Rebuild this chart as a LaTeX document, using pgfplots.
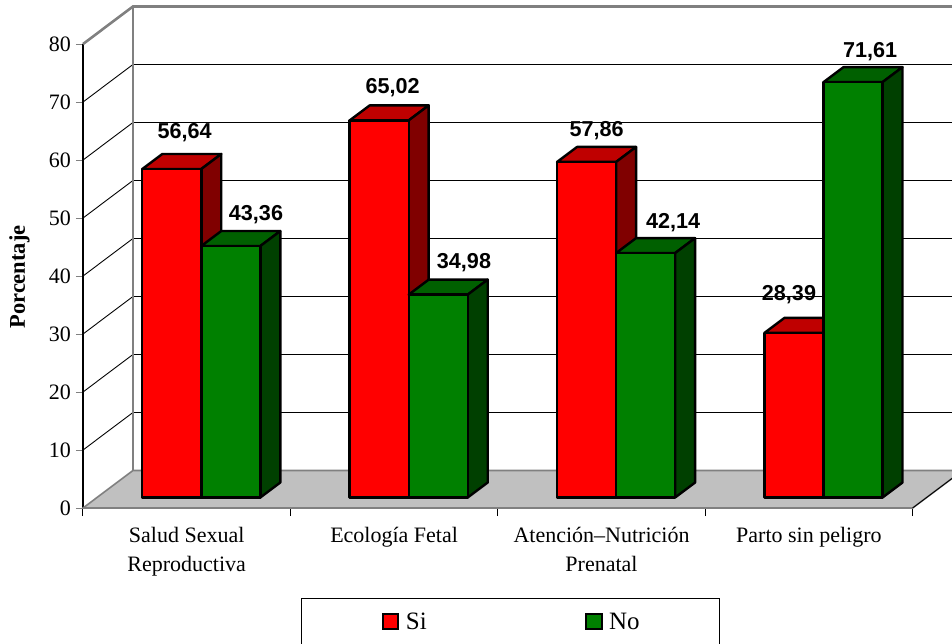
\documentclass[border=0pt]{standalone}
\usepackage{pgfplots}
\pgfplotsset{compat=1.18}
\usepackage{fontspec}
\setmainfont{Liberation Serif}
\newfontfamily\labelfont{Liberation Sans}

\definecolor{redfront}{HTML}{FF0000}
\definecolor{redtop}{HTML}{BF0000}
\definecolor{redside}{HTML}{800000}
\definecolor{greenfront}{HTML}{008000}
\definecolor{greentop}{HTML}{006000}
\definecolor{greenside}{HTML}{004000}
\definecolor{wallgray}{HTML}{808080}
\definecolor{floorgray}{HTML}{C0C0C0}

% Depth of the back wall and of the bars, in axis units
\def\wallx{0.2411}
\def\wally{6.47}
\def\barx{0.0964}
\def\bary{2.586}
\def\barbase{1.81}
\def\barw{0.2845}

% Gridline at one level: side wall, then back wall
\newcommand{\gridat}[1]{%
  \pgfmathsetmacro{\ga}{#1+\wally}%
  \pgfmathsetmacro{\gb}{4+\wallx}%
  \addplot[black,line width=0.9pt,forget plot] coordinates {(0,#1) (\wallx,\ga) (\gb,\ga)};
}

% One 3D bar: left edge, value, front, top and side colours
\newcommand{\threedbar}[5]{%
  \pgfmathsetmacro{\xl}{#1}%
  \pgfmathsetmacro{\xr}{#1+\barw}%
  \pgfmathsetmacro{\yt}{\barbase+#2}%
  \pgfmathsetmacro{\xlb}{\xl+\barx}%
  \pgfmathsetmacro{\xrb}{\xr+\barx}%
  \pgfmathsetmacro{\ytb}{\yt+\bary}%
  \pgfmathsetmacro{\ybb}{\barbase+\bary}%
  \addplot[draw=black,line width=2.4pt,fill=#4,line join=round,forget plot]
    coordinates {(\xl,\yt) (\xlb,\ytb) (\xrb,\ytb) (\xr,\yt)} -- cycle;
  \addplot[draw=black,line width=2.4pt,fill=#5,line join=round,forget plot]
    coordinates {(\xr,\barbase) (\xrb,\ybb) (\xrb,\ytb) (\xr,\yt)} -- cycle;
  \addplot[draw=black,line width=2.4pt,fill=#3,line join=round,forget plot]
    coordinates {(\xl,\barbase) (\xl,\yt) (\xr,\yt) (\xr,\barbase)} -- cycle;
}

\begin{document}
\begin{tikzpicture}
\path[use as bounding box] (-83pt,-135pt) rectangle (869pt,508pt);
\clip (-83pt,-135pt) rectangle (869pt,508pt);
\begin{axis}[
  at={(0pt,0pt)}, anchor=origin,
  scale only axis, width=829.6pt, height=464pt,
  xmin=0, xmax=4, ymin=0, ymax=80,
  clip=false,
  axis y line=left, axis x line=bottom,
  axis line style={-},
  y axis line style={line width=1.3pt,black},
  x axis line style={line width=1.3pt,wallgray},
  xtick={0.5,1.5,2.5,3.5},
  xticklabels={{Salud Sexual\\Reproductiva},{Ecología Fetal},{Atención–Nutrición\\Prenatal},{Parto sin peligro}},
  xticklabel style={align=center,font=\fontsize{22}{29}\selectfont,yshift=-9pt},
  major x tick style={draw=none},
  minor xtick={0,1,2,3,4},
  minor tick length=8pt,
  minor x tick style={draw=black,line width=1pt},
  ytick={0,10,...,80},
  y tick style={draw=wallgray,line width=1pt},
  tick align=outside, major tick length=7pt,
  yticklabel style={font=\fontsize{22}{25}\selectfont,/pgf/number format/assume math mode=true,
    inner sep=0pt,xshift=-5pt},
  ylabel={\textbf{Porcentaje}},
  every axis y label/.style={at={(axis description cs:-0.0765,0.498)},rotate=90,anchor=center,
    font=\fontsize{22.5}{26}\selectfont},
  legend style={at={(axis cs:1.0511,-15.6)},anchor=north west,draw=black,line width=0.9pt,
    legend columns=2,font=\fontsize{25}{30}\selectfont,inner xsep=78pt,inner ysep=12pt,
    /tikz/every even column/.append style={column sep=154pt}},
  legend cell align=left,
  legend image code/.code={\draw[draw=black,line width=2pt,fill=#1] (0pt,-7.5pt) rectangle (15.5pt,7.5pt);
    \path (-3pt,0pt) (20.5pt,0pt);},
]
% Floor and walls
\addplot[fill=floorgray,draw=wallgray,line width=1.6pt,forget plot]
  coordinates {(0,0) (0.2411,6.47) (4.2411,6.47) (4,0)} -- cycle;
\addplot[black,line width=0.9pt,forget plot] coordinates {(4,0) (4.2411,6.47)};
\gridat{10}\gridat{20}\gridat{30}\gridat{40}\gridat{50}\gridat{60}\gridat{70}
\addplot[wallgray,line width=2.6pt,forget plot]
  coordinates {(0,80) (0.2411,86.47) (4.2411,86.47)};
\addplot[wallgray,line width=2.6pt,forget plot]
  coordinates {(0.2411,6.47) (0.2411,86.47)};

% Bars, group by group
\threedbar{0.2859}{56.64}{redfront}{redtop}{redside}
\threedbar{0.5704}{43.36}{greenfront}{greentop}{greenside}
\threedbar{1.2859}{65.02}{redfront}{redtop}{redside}
\threedbar{1.5704}{34.98}{greenfront}{greentop}{greenside}
\threedbar{2.2859}{57.86}{redfront}{redtop}{redside}
\threedbar{2.5704}{42.14}{greenfront}{greentop}{greenside}
\threedbar{3.2859}{28.39}{redfront}{redtop}{redside}
\threedbar{3.5704}{71.61}{greenfront}{greentop}{greenside}

% Value labels, with the printed number carried as point meta
\addplot[draw=none,mark=none,forget plot,point meta=explicit,
  nodes near coords,
  nodes near coords align=center,
  every node near coord/.append style={anchor=center,inner sep=0pt,yshift=-1.7pt,
    font=\labelfont\bfseries\fontsize{21.6}{26}\selectfont,
    /pgf/number format/.cd,assume math mode=true,fixed,fixed zerofill,precision=2,use comma,1000 sep={}}]
  coordinates {
    (0.4904,65.0)[56.64] (0.8341,50.9)[43.36]
    (1.4933,72.7)[65.02] (1.8370,42.6)[34.98]
    (2.4770,65.3)[57.86] (2.8450,49.5)[42.14]
    (3.4040,37.1)[28.39] (3.7950,79.0)[71.61]
  };

\addlegendimage{redfront}
\addlegendentry{Si}
\addlegendimage{greenfront}
\addlegendentry{No}
\end{axis}
\end{tikzpicture}
\end{document}
